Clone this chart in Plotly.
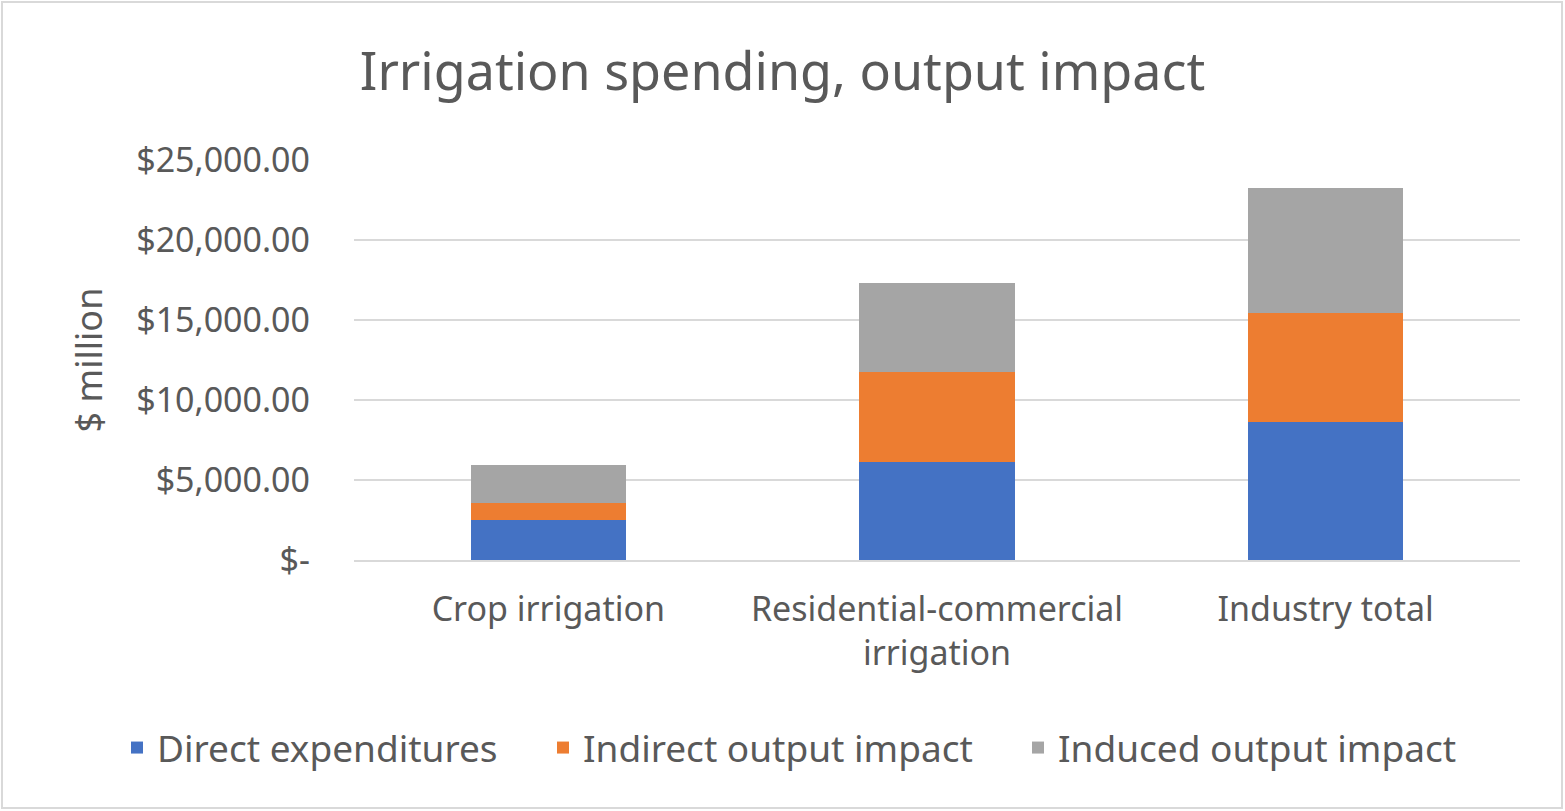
import plotly.graph_objects as go

categories = ["Crop irrigation", "Residential-commercial<br>irrigation", "Industry total"]
direct = [2500, 6140, 8610]
indirect = [1060, 5625, 6810]
induced = [2375, 5560, 7810]
series_names = ["Direct expenditures", "Indirect output impact", "Induced output impact"]
colors = ["#4472C4", "#ED7D31", "#A5A5A5"]
tick_vals = [0, 5000, 10000, 15000, 20000, 25000]
tick_text = ["$-", "$5,000.00", "$10,000.00", "$15,000.00", "$20,000.00", "$25,000.00"]

FONT = "Noto Sans"
TXT = "#595959"
W, H = 1565, 811
legend_ids = ["legend", "legend2", "legend3"]
legend_text_x = [157, 583, 1058]

fig = go.Figure()
for name, vals, c, lg in zip(series_names, [direct, indirect, induced], colors, legend_ids):
    fig.add_trace(go.Bar(x=categories, y=vals, name=name, legend=lg,
                         marker=dict(color=c, line=dict(width=0))))

l, r, t, b = 354, 45, 160, 251
legend_common = dict(orientation="h", xanchor="left", xref="container",
                     y=1 - 748 / H, yref="container", yanchor="middle",
                     font=dict(size=37, color=TXT, family=FONT), itemwidth=30,
                     bgcolor="rgba(0,0,0,0)")
layout_legends = {}
for lg, tx in zip(legend_ids, legend_text_x):
    layout_legends[lg] = dict(legend_common, x=(tx - 40) / W)

fig.update_layout(
    width=W, height=H,
    barmode="stack", bargap=0.6,
    plot_bgcolor="white", paper_bgcolor="white",
    margin=dict(l=l, r=r, t=t, b=b),
    font=dict(family=FONT, color=TXT, size=34),
    title=dict(text="Irrigation spending, output impact", x=0.5, xref="container", xanchor="center",
               y=1 - 72 / H, yanchor="middle", font=dict(size=52, color=TXT, family=FONT)),
    showlegend=True,
    xaxis=dict(showgrid=False, showline=True, linecolor="#D9D9D9", linewidth=1.5,
               ticks="", tickfont=dict(size=34, color=TXT), ticklabelstandoff=18),
    yaxis=dict(range=[0, 25000], tickvals=tick_vals, ticktext=tick_text,
               showgrid=True, gridcolor="#D9D9D9", gridwidth=1.5, zeroline=False,
               showline=False, ticks="", tickfont=dict(size=34, color=TXT),
               ticklabelstandoff=43,
               title=dict(text="$ million", font=dict(size=36, color=TXT), standoff=22)),
    **layout_legends,
)

# outer border of the chart area
pw = W - l - r
ph = H - t - b
fig.add_shape(type="rect", xref="paper", yref="paper",
              x0=(2 - l) / pw, x1=(W - 3 - l) / pw,
              y0=-(H - 3 - t - ph) / ph, y1=1 + (t - 2) / ph,
              line=dict(color="#D9D9D9", width=2), fillcolor="rgba(0,0,0,0)", layer="below")

fig.write_html("out.html", config={"displayModeBar": False},
               post_script="document.body.style.margin='0';")
